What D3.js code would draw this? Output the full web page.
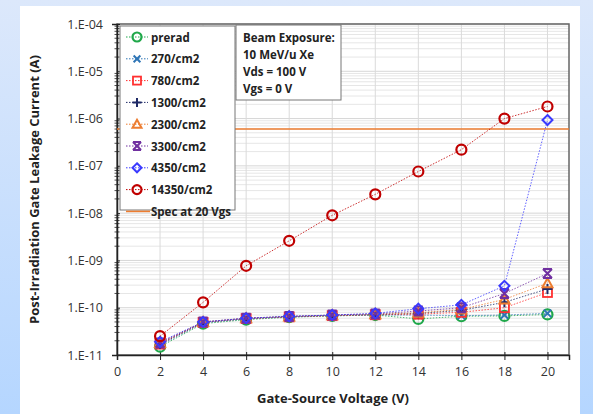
<!DOCTYPE html>
<html>
<head>
<meta charset="utf-8">
<script src="https://cdn.jsdelivr.net/npm/d3@7/dist/d3.min.js"></script>
<style>
  body { margin: 0; padding: 0; overflow: hidden; }
  text { font-family: "Open Sans", "DejaVu Sans", sans-serif; }
</style>
</head>
<body>
<div id="chart"></div>
<script>
// gate-source voltage (V)
var voltages = [2, 4, 6, 8, 10, 12, 14, 16, 18, 20];

// leakage current per fluence (A)
var prerad  = [1.5e-11, 4.6e-11, 5.6e-11, 6.3e-11, 6.7e-11, 7.0e-11, 5.8e-11, 6.6e-11, 6.7e-11, 7.2e-11];
var fl270   = [1.6e-11, 4.8e-11, 5.8e-11, 6.4e-11, 6.8e-11, 7.0e-11, 7.0e-11, 6.8e-11, 7.0e-11, 7.6e-11];
var fl780   = [1.7e-11, 4.9e-11, 5.9e-11, 6.4e-11, 6.8e-11, 7.1e-11, 7.3e-11, 8.0e-11, 1.0e-10, 2.1e-10];
var fl1300  = [1.7e-11, 4.9e-11, 5.9e-11, 6.5e-11, 6.9e-11, 7.2e-11, 7.6e-11, 8.8e-11, 1.3e-10, 2.5e-10];
var fl2300  = [1.8e-11, 5.0e-11, 6.0e-11, 6.5e-11, 6.9e-11, 7.3e-11, 7.8e-11, 9.2e-11, 1.5e-10, 3.3e-10];
var fl3300  = [1.8e-11, 5.0e-11, 6.0e-11, 6.5e-11, 7.0e-11, 7.4e-11, 8.5e-11, 1.0e-10, 2.0e-10, 5.3e-10];
var fl4350  = [1.9e-11, 5.0e-11, 6.0e-11, 6.6e-11, 7.0e-11, 7.6e-11, 9.5e-11, 1.15e-10, 2.9e-10, 9.3e-7];
var fl14350 = [2.5e-11, 1.3e-10, 7.7e-10, 2.6e-9, 9.0e-9, 2.5e-8, 7.6e-8, 2.2e-7, 1.0e-6, 1.8e-6];

var specLimit = 6e-7;

var seriesNames = ["prerad", "270/cm2", "780/cm2", "1300/cm2", "2300/cm2", "3300/cm2", "4350/cm2", "14350/cm2"];
var seriesValues = [prerad, fl270, fl780, fl1300, fl2300, fl3300, fl4350, fl14350];
var seriesColors = ["#1fa84a", "#2e75b6", "#ff3030", "#1f2a66", "#ed7d31", "#7030a0", "#3a3aff", "#c00000"];
var seriesMarkers = ["circle", "x", "square", "plus", "triangle", "bigx", "diamond", "circle"];

var xTicks = [0, 2, 4, 6, 8, 10, 12, 14, 16, 18, 20];
var yTicks = [1e-11, 1e-10, 1e-9, 1e-8, 1e-7, 1e-6, 1e-5, 1e-4];
var infoLines = ["Beam Exposure:", "10 MeV/u Xe", "Vds = 100 V", "Vgs = 0 V"];

var W = 593, H = 414;
var margin = {left: 117, right: 24, top: 24, bottom: 59};

var svg = d3.select("#chart").append("svg")
  .attr("width", W)
  .attr("height", H);

// page background
var defs = svg.append("defs");
var grad = defs.append("linearGradient").attr("id", "bg")
  .attr("x1", 0).attr("y1", 0).attr("x2", 0).attr("y2", 1);
grad.append("stop").attr("offset", "0%").attr("stop-color", "#dce8fb");
grad.append("stop").attr("offset", "100%").attr("stop-color", "#b5d6ff");
svg.append("rect").attr("width", W).attr("height", H).attr("fill", "url(#bg)");
svg.append("rect").attr("x", 20).attr("y", 6).attr("width", 560).attr("height", H - 6).attr("fill", "#ffffff");

var x = d3.scaleLinear().domain([0, 21]).range([margin.left, W - margin.right]);
var y = d3.scaleLog().domain([1e-11, 1e-4]).range([H - margin.bottom, margin.top]);

var x0 = x.range()[0], x1 = x.range()[1];
var yb = y.range()[0], yt = y.range()[1];

// gridlines
var minorVals = [];
yTicks.slice(0, -1).forEach(function (d) {
  for (var k = 2; k <= 9; k++) minorVals.push(d * k);
});
svg.append("g").selectAll("line.minor")
  .data(minorVals).enter().append("line")
  .attr("x1", x0).attr("x2", x1)
  .attr("y1", function (d) { return y(d); })
  .attr("y2", function (d) { return y(d); })
  .attr("stroke", "#e6e6e6").attr("stroke-width", 1);
svg.append("g").selectAll("line.major")
  .data(yTicks).enter().append("line")
  .attr("x1", x0).attr("x2", x1)
  .attr("y1", function (d) { return y(d); })
  .attr("y2", function (d) { return y(d); })
  .attr("stroke", "#d6d6d6").attr("stroke-width", 1);
svg.append("g").selectAll("line.vgrid")
  .data(xTicks.slice(1)).enter().append("line")
  .attr("x1", function (d) { return x(d); })
  .attr("x2", function (d) { return x(d); })
  .attr("y1", yt).attr("y2", yb)
  .attr("stroke", "#dadada").attr("stroke-width", 1);

// plot border
svg.append("rect")
  .attr("x", x0).attr("y", yt)
  .attr("width", x1 - x0).attr("height", yb - yt)
  .attr("fill", "none").attr("stroke", "#666").attr("stroke-width", 1.5);

// axes
var xAxis = d3.axisBottom(x).tickValues(xTicks).tickSize(5).tickPadding(7);
var gx = svg.append("g").attr("transform", "translate(0," + yb + ")").call(xAxis);
gx.select(".domain").attr("stroke", "#222").attr("stroke-width", 1.5);
gx.selectAll(".tick line").attr("stroke", "#222").attr("y1", -3);
gx.selectAll(".tick text").attr("font-size", 12.5).attr("fill", "#333")
  .style("font-family", "'Open Sans', sans-serif");

var yAxis = d3.axisLeft(y).tickValues(yTicks).tickSize(5).tickPadding(9)
  .tickFormat(function (d) { return "1.E-" + d3.format("02d")(Math.round(-Math.log10(d))); });
var gy = svg.append("g").attr("transform", "translate(" + x0 + ",0)").call(yAxis);
gy.select(".domain").attr("stroke", "#222").attr("stroke-width", 1.5);
gy.selectAll(".tick line").attr("stroke", "#222").attr("x2", 3);
gy.selectAll(".tick text").attr("font-size", 12.5).attr("fill", "#333")
  .style("font-family", "'Open Sans', sans-serif");
gy.append("g").selectAll("line")
  .data(minorVals).enter().append("line")
  .attr("x1", -2.5).attr("x2", 2.5)
  .attr("y1", function (d) { return y(d); })
  .attr("y2", function (d) { return y(d); })
  .attr("stroke", "#222").attr("stroke-width", 0.8);

// axis titles
svg.append("text")
  .attr("x", (x0 + x1) / 2 - 10).attr("y", 403)
  .attr("text-anchor", "middle").attr("font-size", 13).attr("font-weight", "bold").attr("fill", "#222")
  .text("Gate-Source Voltage (V)");
svg.append("text")
  .attr("transform", "translate(39," + ((yt + yb) / 2) + ") rotate(-90)")
  .attr("text-anchor", "middle").attr("font-size", 13).attr("font-weight", "bold").attr("fill", "#222")
  .text("Post-Irradiation Gate Leakage Current (A)");

// spec line
svg.append("line")
  .attr("x1", x0).attr("x2", x1)
  .attr("y1", y(specLimit)).attr("y2", y(specLimit))
  .attr("stroke", "#ed7d31").attr("stroke-width", 1.6);

// marker drawing
function drawMarker(g, type, color, size) {
  var s = size || 5;
  if (type === "circle") {
    g.append("circle").attr("r", s).attr("fill", "none").attr("stroke", color).attr("stroke-width", 2.2);
  } else if (type === "square") {
    g.append("rect").attr("x", -s + 0.5).attr("y", -s + 0.5).attr("width", 2 * s - 1).attr("height", 2 * s - 1)
      .attr("fill", "none").attr("stroke", color).attr("stroke-width", 1.8);
  } else if (type === "triangle") {
    g.append("path").attr("d", "M0," + (-s) + "L" + s + "," + (s * 0.8) + "L" + (-s) + "," + (s * 0.8) + "Z")
      .attr("fill", "none").attr("stroke", color).attr("stroke-width", 2);
  } else if (type === "diamond") {
    g.append("path").attr("d", "M0," + (-s) + "L" + s + ",0L0," + s + "L" + (-s) + ",0Z")
      .attr("fill", "none").attr("stroke", color).attr("stroke-width", 2);
  } else if (type === "x") {
    var a = s * 0.75;
    g.append("path").attr("d", "M" + (-a) + "," + (-a) + "L" + a + "," + a + "M" + a + "," + (-a) + "L" + (-a) + "," + a)
      .attr("stroke", color).attr("stroke-width", 2);
  } else if (type === "bigx") {
    var b = s * 0.9;
    g.append("path").attr("d", "M" + (-b) + "," + (-b) + "L" + b + "," + b + "M" + b + "," + (-b) + "L" + (-b) + "," + b + "M" + (-b) + "," + (-b) + "L" + b + "," + (-b) + "M" + (-b) + "," + b + "L" + b + "," + b)
      .attr("stroke", color).attr("stroke-width", 2);
  } else if (type === "plus") {
    g.append("path").attr("d", "M" + (-s) + ",0L" + s + ",0M0," + (-s) + "L0," + s)
      .attr("stroke", color).attr("stroke-width", 2);
  }
}

var line = d3.line()
  .x(function (d) { return x(d[0]); })
  .y(function (d) { return y(d[1]); });

var seriesG = svg.append("g");
seriesValues.forEach(function (vals, i) {
  var pts = voltages.map(function (v, j) { return [v, vals[j]]; });
  var g = seriesG.append("g");
  g.append("path").datum(pts)
    .attr("d", line)
    .attr("fill", "none")
    .attr("stroke", seriesColors[i])
    .attr("stroke-width", 1)
    .attr("stroke-dasharray", "1.5,1.5")
    .attr("opacity", 0.8);
  g.selectAll("g.pt").data(pts).enter().append("g")
    .attr("transform", function (d) { return "translate(" + x(d[0]) + "," + y(d[1]) + ")"; })
    .each(function () { drawMarker(d3.select(this), seriesMarkers[i], seriesColors[i], 5); });
});

// legend
var leg = svg.append("g");
leg.append("rect").attr("x", 120).attr("y", 26).attr("width", 115).attr("height", 184)
  .attr("fill", "#fff").attr("stroke", "#777").attr("stroke-width", 1);
var legendNames = seriesNames.concat(["Spec at 20 Vgs"]);
legendNames.forEach(function (name, i) {
  var ly = 37 + i * 21.8;
  var g = leg.append("g");
  if (i < seriesNames.length) {
    g.append("line").attr("x1", 126).attr("x2", 148).attr("y1", ly).attr("y2", ly)
      .attr("stroke", seriesColors[i]).attr("stroke-width", 1).attr("stroke-dasharray", "1.5,1.5");
    drawMarker(g.append("g").attr("transform", "translate(137," + ly + ")"), seriesMarkers[i], seriesColors[i], 4.5);
  } else {
    g.append("line").attr("x1", 126).attr("x2", 150).attr("y1", ly).attr("y2", ly)
      .attr("stroke", "#ed7d31").attr("stroke-width", 1.6);
  }
  g.append("text").attr("x", 151).attr("y", ly + 4.5)
    .attr("font-size", 11.5).attr("font-weight", "bold").attr("fill", "#222")
    .text(name);
});

// info box
var info = svg.append("g");
info.append("rect").attr("x", 236).attr("y", 25).attr("width", 105).attr("height", 75)
  .attr("fill", "#fff").attr("stroke", "#777").attr("stroke-width", 1);
infoLines.forEach(function (t, i) {
  info.append("text").attr("x", 243).attr("y", 42 + i * 17)
    .attr("font-size", 11.5).attr("font-weight", "bold").attr("fill", "#222")
    .text(t);
});
</script>
</body>
</html>
